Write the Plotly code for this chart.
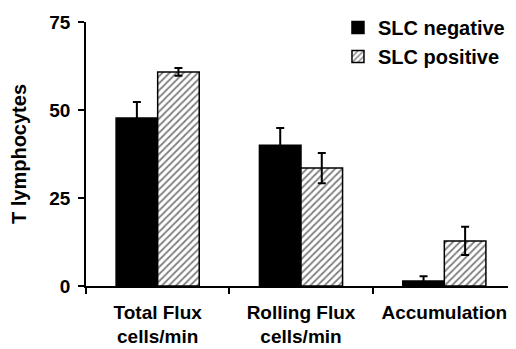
import plotly.graph_objects as go

categories = ["Total Flux<br>cells/min", "Rolling Flux<br>cells/min", "Accumulation"]
neg_values = [47.7, 40.0, 1.4]
neg_errors = [4.6, 4.9, 1.4]
pos_values = [60.8, 33.5, 12.8]
pos_errors = [1.1, 4.3, 4.0]
y_ticks = [0, 25, 50, 75]

FONT = "Liberation Sans, Arial, sans-serif"

fig = go.Figure()
fig.add_trace(go.Bar(
    x=categories, y=neg_values, name="SLC negative",
    marker=dict(color="black", line=dict(color="black", width=1.5)),
    error_y=dict(type="data", array=neg_errors, symmetric=True,
                 color="black", thickness=2, width=4),
))
fig.add_trace(go.Bar(
    x=categories, y=pos_values, name="SLC positive",
    marker=dict(color="white", line=dict(color="black", width=1.5),
                pattern=dict(shape="/", fgcolor="black", bgcolor="white",
                             size=5, solidity=0.35)),
    error_y=dict(type="data", array=pos_errors, symmetric=True,
                 color="black", thickness=2, width=4),
))

fig.update_layout(
    width=508, height=341,
    margin=dict(l=78, r=0, t=14, b=63, autoexpand=False),
    paper_bgcolor="white", plot_bgcolor="white",
    barmode="group", bargap=0.42, bargroupgap=0,
    font=dict(family=FONT, color="black", size=19, weight="bold"),
    showlegend=True,
    legend=dict(x=0.586, y=1.053, xanchor="left", yanchor="top",
                font=dict(family=FONT, size=20, weight="bold"),
                bgcolor="rgba(0,0,0,0)", itemwidth=30),
    xaxis=dict(
        type="category", tickson="boundaries", ticks="outside",
        ticklen=6, tickwidth=1.5, tickcolor="black",
        showline=True, linecolor="black", linewidth=1.5,
        showgrid=False, zeroline=False, ticklabelstandoff=8,
        automargin=False,
        tickfont=dict(family=FONT, size=19, weight="bold"),
    ),
    yaxis=dict(
        range=[0, 75], tickvals=y_ticks, ticks="outside",
        ticklen=6, tickwidth=1.5, tickcolor="black",
        showline=True, linecolor="black", linewidth=1.5,
        showgrid=False, zeroline=False, ticklabelstandoff=4,
        automargin=False,
        tickfont=dict(family=FONT, size=19, weight="bold"),
        title=dict(text="T lymphocytes", standoff=22,
                   font=dict(family=FONT, size=20, weight="bold")),
    ),
)

fig.write_html("out.html")
